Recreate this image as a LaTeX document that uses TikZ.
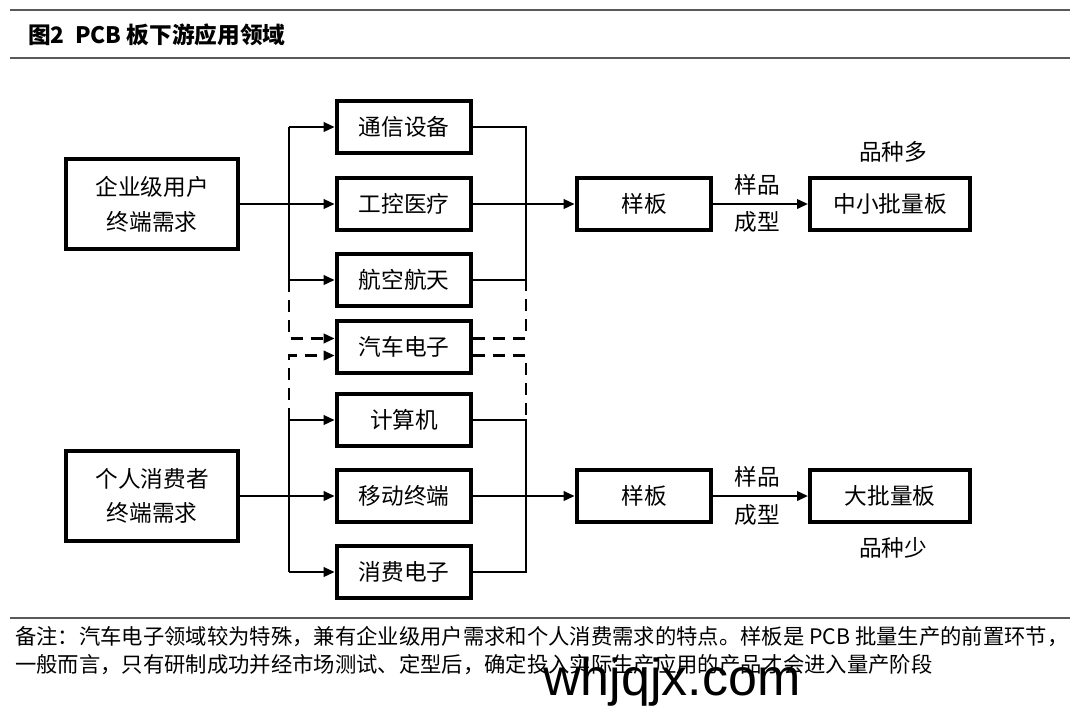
\documentclass[tikz,border=0pt]{standalone}
\usepackage{fontspec}
\setmainfont{Noto Sans CJK SC}
\newfontfamily\wmfont{Liberation Sans}
\usepackage{tikz}
\usetikzlibrary{arrows.meta}
\usetikzlibrary{positioning}

\begin{document}
\begin{tikzpicture}[x=0.75pt,y=-0.75pt]
  \tikzset{box/.style = {shape=rectangle,draw,line width=2.8pt,minimum width=101pt,minimum height=39pt,inner sep=1pt,font=\fontsize{17}{18}\selectfont}}
  \tikzset{bigbox/.style = {box,minimum width=129pt,minimum height=67pt,align=center,font=\fontsize{17}{26}\selectfont}}
  \tikzset{outbox/.style = {box,minimum width=120pt}}
  \tikzset{lbl/.style = {inner sep=1pt,font=\fontsize{17}{18}\selectfont}}
  \tikzset{wire/.style = {line width=2.2pt}}
  \tikzset{dashwire/.style = {wire,dash pattern=on 9pt off 6pt}}
  \tikzset{rule/.style = {line width=1.5pt,draw=black!65}}
  \tikzset{%
  tipA/.tip={Triangle[angle=45:9pt]},
}
  \useasboundingbox (0,0) rectangle (1080,722);

	% title and rules
	\draw[rule] (10,10) -- (1070,10);
	\node[anchor=west,inner sep=0pt,font=\fontsize{17}{18}\selectfont\bfseries] (title) at (28,35) {图2\ \ PCB 板下游应用领域};
	\draw[rule] (10,58) -- (1070,58);

	\node[bigbox] (E) at (152,204) {企业级用户\\终端需求};
	\node[bigbox] (P) at (152,496) {个人消费者\\终端需求};

	\node[box] (T1) at (404,127) {通信设备};
	\node[box] (T2) at (404,204) {工控医疗};
	\node[box] (T3) at (404,280) {航空航天};
	\node[box] (C) at (404,347) {汽车电子};
	\node[box] (K1) at (404,420) {计算机};
	\node[box] (K2) at (404,496) {移动终端};
	\node[box] (K3) at (404,572) {消费电子};

	\node[box] (S1) at (644,204) {样板};
	\node[box] (S2) at (644,496) {样板};
	\node[outbox] (M1) at (890,204) {中小批量板};
	\node[outbox] (M2) at (890,496) {大批量板};

	\node[lbl] (y1) at (757,185) {样品};
	\node[lbl] (c1) at (757,222) {成型};
	\node[lbl] (y2) at (757,477) {样品};
	\node[lbl] (c2) at (757,515) {成型};
	\node[lbl] (d1) at (893,152) {品种多};
	\node[lbl] (d2) at (893,548) {品种少};

	\coordinate (LA) at (289,204);
	\coordinate (LB) at (289,496);
	\coordinate (RA) at (526,204);
	\coordinate (RB) at (526,496);

	% left buses
	\draw[wire] (E.east) -- (LA);
	\draw[wire] (LA |- T1.west) -- (LA |- T3.west);
	\draw[wire] (P.east) -- (LB);
	\draw[wire] (LB |- K1.west) -- (LB |- K3.west);
    \foreach \to in {T1,T2,T3}
    \draw[wire,-tipA] (LA |- \to.west) -- (\to.west);
    \foreach \to in {K1,K2,K3}
    \draw[wire,-tipA] (LB |- \to.west) -- (\to.west);

	% right buses
	\draw[wire] (T1.east) -- (RA |- T1.east) -- (RA |- T3.east) -- (T3.east);
	\draw[wire] (K1.east) -- (RB |- K1.east) -- (RB |- K3.east) -- (K3.east);
    \foreach \from/\to in {T2/S1,K2/S2,S1/M1,S2/M2}
    \draw[wire,-tipA] (\from.east) -- (\to.west);

	% dashed links for the car box
	\draw[dashwire,-tipA] (LA |- T3.west) |- ([yshift=6.4pt]C.west);
	\draw[dashwire,-tipA] (LB |- K1.west) |- ([yshift=-6.4pt]C.west);
	\draw[dashwire] ([yshift=6.4pt]C.east) -| (RA |- T3.east);
	\draw[dashwire] ([yshift=-6.4pt]C.east) -| (RB |- K1.east);

	% footer
	\draw[rule] (10,618) -- (1070,618);
	\node[anchor=west,inner sep=0pt,font=\fontsize{16}{18}\selectfont] (note1) at (15,637) {备注：汽车电子领域较为特殊，兼有企业级用户需求和个人消费需求的特点。样板是 PCB 批量生产的前置环节，};
	\node[anchor=west,inner sep=0pt,font=\fontsize{16}{18}\selectfont] (note2) at (15,665) {一般而言，只有研制成功并经市场测试、定型后，确定投入实际生产应用的产品才会进入量产阶段};
	\node[inner sep=0pt,font=\wmfont\fontsize{39}{40}\selectfont] (wm) at (672,682) {whjqjx.com};

\end{tikzpicture}
\end{document}
